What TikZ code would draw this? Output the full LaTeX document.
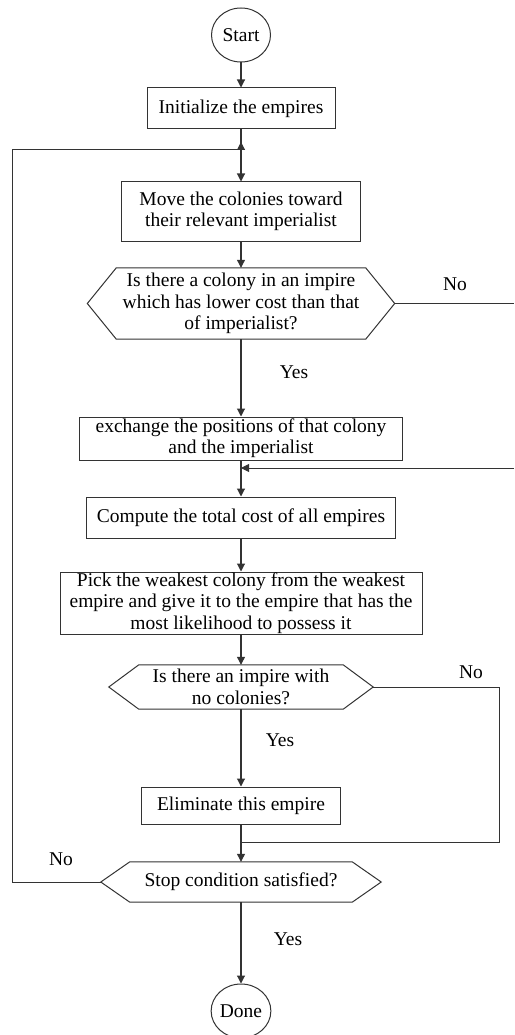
\documentclass[tikz,border=0pt]{standalone}
\usepackage{fontspec}
\setmainfont{Liberation Serif}
\usetikzlibrary{arrows.meta,shapes.geometric}
\definecolor{lc}{HTML}{333333}
\begin{document}
\begin{tikzpicture}[x=1pt,y=-1pt,
  every node/.style={font=\fontsize{19.5}{21.3}\selectfont, inner sep=0pt, text=black},
  proc/.style={draw=lc, line width=1pt, rectangle, align=center},
  term/.style={draw=lc, line width=1pt, ellipse, minimum width=59pt, minimum height=54pt},
  decis/.style={rectangle, align=center},
  hexa/.style={draw=lc, line width=1pt},
  conn/.style={draw=lc, line width=1.1pt},
  side/.style={draw=lc, line width=0.9pt},
  arr/.style={conn, -{Triangle[length=8pt,width=8pt]}},
  lbl/.style={}]
\useasboundingbox (0,0) rectangle (514,1035);
\node[term] (start) at (241,35) {Start};
\node[proc, minimum width=188pt, minimum height=41pt] (init) at (241,108.5) {Initialize the empires};
\node[proc, minimum width=239pt, minimum height=59pt] (move) at (241,211.5) {Move the colonies toward\\their relevant imperialist};
\node[decis, minimum width=307pt, minimum height=71pt] (d1) at (241,303.5) {Is there a colony in an impire\\which has lower cost than that\\of imperialist?};
\node[proc, minimum width=323pt, minimum height=43pt] (exch) at (241,438.5) {exchange the positions of that colony\\and the imperialist};
\node[proc, minimum width=309pt, minimum height=41pt] (comp) at (241,517.5) {Compute the total cost of all empires};
\node[proc, minimum width=362pt, minimum height=62pt] (pick) at (241,603) {Pick the weakest colony from the weakest\\empire and give it to the empire that has the\\most likelihood to possess it};
\node[decis, minimum width=264pt, minimum height=44pt] (d2) at (241,687) {Is there an impire with\\no colonies?};
\node[proc, minimum width=199pt, minimum height=37pt] (elim) at (241,805.5) {Eliminate this empire};
\node[decis, minimum width=280pt, minimum height=40pt] (d3) at (241,882) {Stop condition satisfied?};
\node[term] (done) at (241,1011) {Done};
% hexagons
\foreach \n/\i in {d1/29pt,d2/30pt,d3/29pt}{
  \draw[hexa] ([xshift=\i]\n.north west) -- ([xshift=-\i]\n.north east) -- (\n.east)
    -- ([xshift=-\i]\n.south east) -- ([xshift=\i]\n.south west) -- (\n.west) -- cycle;
}
% labels
\node[lbl] (no1) at (455,284) {No};
\node[lbl] (yes1) at (294,372) {Yes};
\node[lbl] (no2) at (471,672) {No};
\node[lbl] (yes2) at (280,740) {Yes};
\node[lbl] (no3) at (61,859) {No};
\node[lbl] (yes3) at (288,939) {Yes};
% coordinates
\coordinate (lp) at (12.5,149);
\coordinate (jn) at (241,149);
\coordinate (r1) at (514,303.5);
\coordinate (r2) at (514,468);
\coordinate (c2) at (499,842);
% connectors
\draw[arr] (start) -- (init);
\draw[arr] (init) -- (move);
\draw[side] (d3.west) -| (lp) -- (jn);
\draw[arr] (jn) -- ++(0,-7);
\draw[arr] (move) -- (d1.north);
\draw[arr] (d1.south) -- (exch);
\draw[side] (d1.east) -- (r1);
\draw[arr] (exch) -- (comp);
\draw[arr, line width=0.9pt] (r2) -- (r2 -| exch.south);
\draw[arr] (comp) -- (pick);
\draw[arr] (pick) -- (d2.north);
\draw[arr] (d2.south) -- (elim);
\draw[side] (d2.east) -- (d2.east -| c2) -- (c2) -- (c2 -| elim.south);
\draw[arr] (elim) -- (d3.north);
\draw[arr] (d3.south) -- (done);
\end{tikzpicture}
\end{document}
